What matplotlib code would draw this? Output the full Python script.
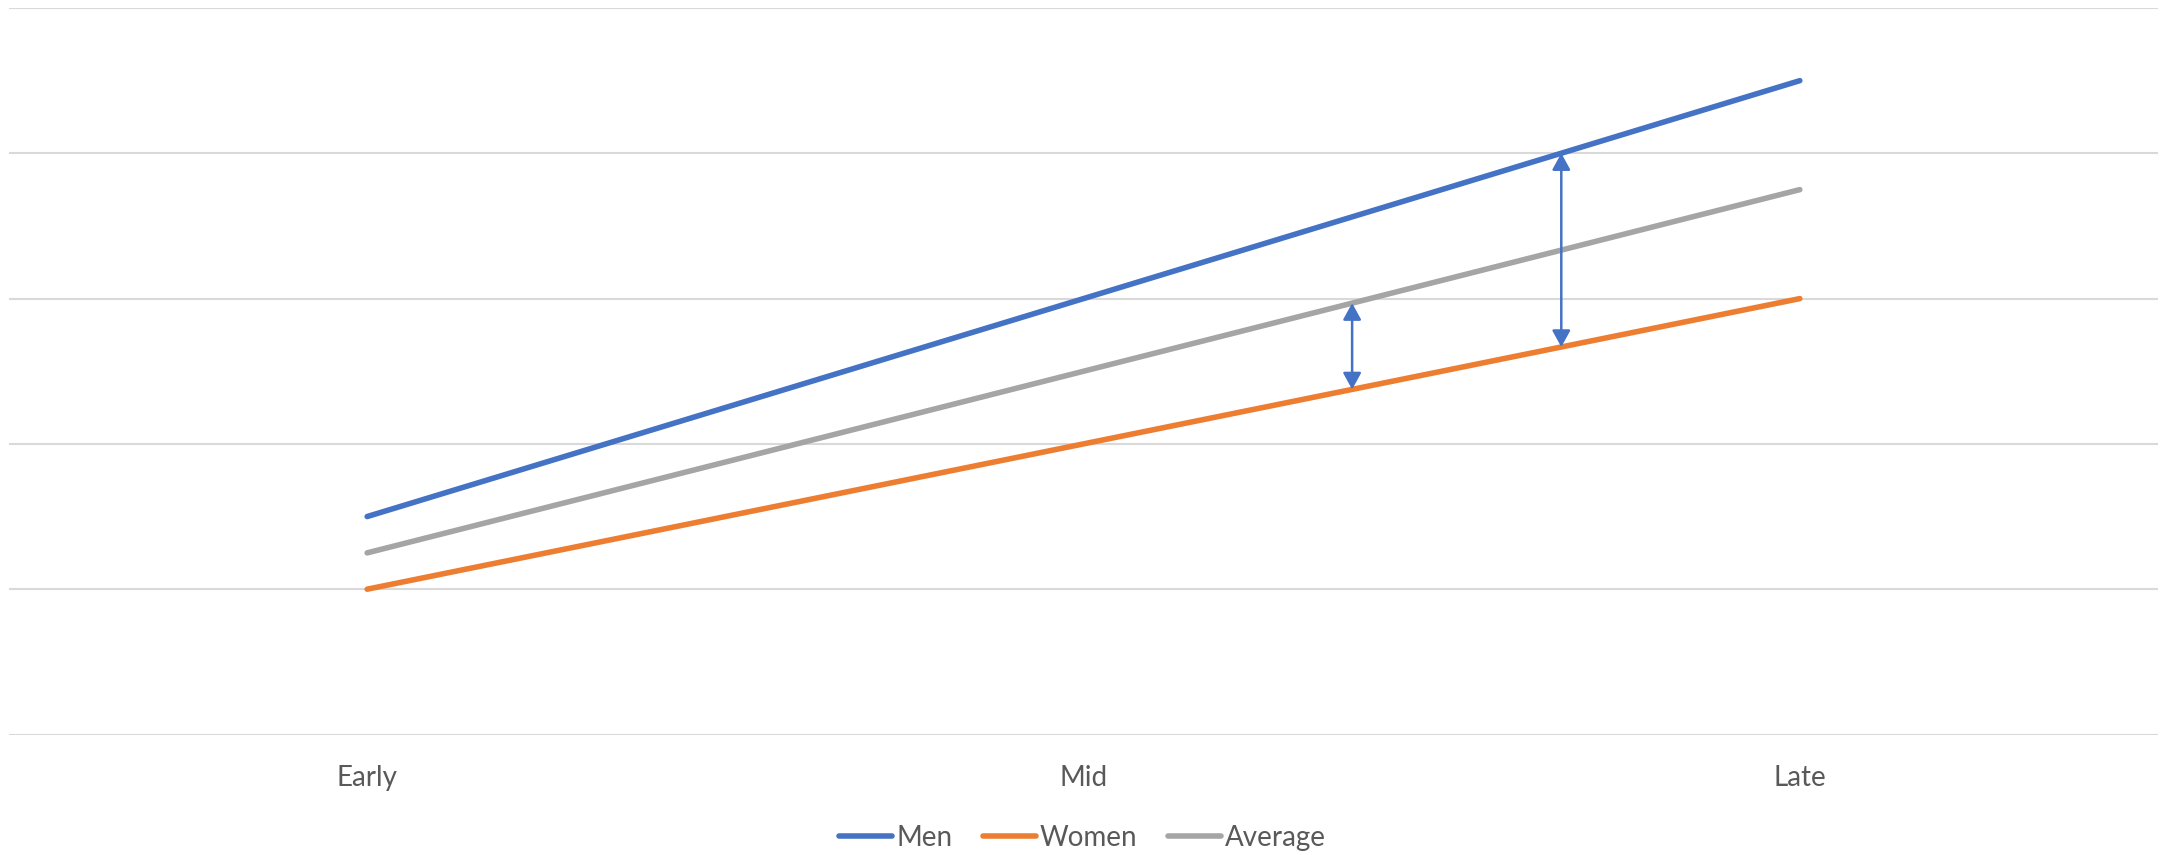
import numpy as np
import matplotlib.pyplot as plt

# career stage vs. level, three series
stages = ["Early", "Mid", "Late"]
men = [1.5, 3.0, 4.5]
women = [1.0, 2.0, 3.0]
average = [1.25, 2.5, 3.75]

# gap markers: x position (in category units) and which series they start from
gap_x = [1.375, 1.667]
gap_from = ["average", "men"]

colors = {"men": "#4472C4", "women": "#ED7D31", "average": "#A5A5A5"}
text_col = "#595959"

plt.rcParams['font.family'] = ['Lato', 'DejaVu Sans']

fig = plt.figure(figsize=(21.65, 8.55), dpi=100)
ax = fig.add_axes([9/2165, 1 - 734.5/855, 2149/2165, 726.5/855])

x = np.arange(len(stages))
series = {"men": men, "women": women, "average": average}
labels = {"men": "Men", "women": "Women", "average": "Average"}
for key in ["men", "women", "average"]:
    ax.plot(x, series[key], color=colors[key], lw=4.0,
            solid_capstyle='round', label=labels[key], zorder=3)

# double-headed arrows between lines
for gx, src in zip(gap_x, gap_from):
    y0 = np.interp(gx, x, series[src])
    y1 = np.interp(gx, x, women)
    ax.annotate("", xy=(gx, y1), xytext=(gx, y0),
                arrowprops=dict(arrowstyle="<|-|>,head_length=1.0,head_width=0.55",
                                color=colors["men"], lw=1.8,
                                shrinkA=0, shrinkB=0),
                zorder=4)

ax.set_xlim(-0.5, 2.5)
ax.set_ylim(0, 5)
ax.set_yticks(np.arange(0, 6))
ax.set_yticklabels([])
ax.set_xticks(x)
ax.set_xticklabels(stages, fontsize=20, color=text_col)
ax.tick_params(axis='both', length=0, pad=22)
ax.grid(axis='y', color='#d9d9d9', lw=1.5)
ax.set_axisbelow(True)
for s in ax.spines.values():
    s.set_visible(False)

fig.legend(loc='center', bbox_to_anchor=(0.5, 1 - 838/855), ncol=3,
           frameon=False, fontsize=20, handlelength=1.9, handletextpad=0.15,
           columnspacing=1.1, labelcolor=text_col)

fig.savefig("out.png", dpi=100)
